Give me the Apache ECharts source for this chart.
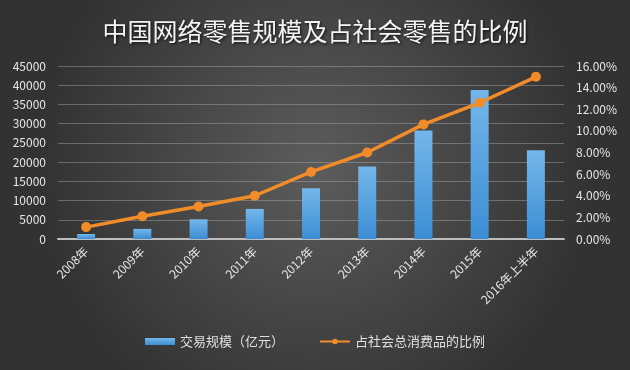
<!DOCTYPE html>
<html><head><meta charset="utf-8">
<script src="https://cdn.jsdelivr.net/npm/echarts@6/dist/echarts.min.js"></script>
<style>html,body{margin:0;padding:0;}#c{width:630px;height:370px;}</style>
</head><body><div id="c"></div>
<script>
var categories = ['2008年','2009年','2010年','2011年','2012年','2013年','2014年','2015年','2016年上半年'];
var tradeScale = [1300, 2630, 5131, 7825, 13205, 18851, 28211, 38773, 23100];
var ratio = [1.1, 2.1, 3.0, 4.0, 6.2, 8.0, 10.6, 12.6, 15.0];
var leftTicks = {min: 0, max: 45000, interval: 5000};
var rightTicks = {min: 0, max: 16, interval: 2};

var chart = echarts.init(document.getElementById('c'));
var font = '"Noto Sans CJK SC", "Noto Sans", sans-serif';
chart.setOption({
  animation: false,
  backgroundColor: {
    type: 'radial', x: 0.5, y: 0.45, r: 0.75,
    colorStops: [{offset: 0, color: '#5c5c5c'}, {offset: 1, color: '#323232'}]
  },
  title: {
    text: '中国网络零售规模及占社会零售的比例',
    left: 'center', top: 14,
    textStyle: {color: '#f4f4f4', fontSize: 25, fontWeight: 'normal', fontFamily: font,
      textShadowColor: 'rgba(0,0,0,0.8)', textShadowBlur: 3, textShadowOffsetX: 1, textShadowOffsetY: 1}
  },
  legend: {
    bottom: 17, left: 'center', itemGap: 35, itemWidth: 30, itemHeight: 7,
    textStyle: {color: '#e0e0e0', fontSize: 13, fontFamily: font},
    data: [
      {name: '交易规模（亿元）', icon: 'rect'},
      {name: '占社会总消费品的比例'}
    ]
  },
  grid: {left: 58, right: 66, top: 66, bottom: 131},
  xAxis: {
    type: 'category', data: categories,
    axisLine: {lineStyle: {color: '#bdbdbd', width: 2}},
    axisTick: {show: false},
    axisLabel: {color: '#e6e6e6', fontSize: 12, rotate: 45, fontFamily: font, margin: 10}
  },
  yAxis: [
    {type: 'value', min: leftTicks.min, max: leftTicks.max, interval: leftTicks.interval,
     axisLabel: {color: '#e6e6e6', fontSize: 12, fontFamily: font, margin: 12,
       formatter: function(v){ return String(v); }},
     splitLine: {lineStyle: {color: 'rgba(170,170,170,0.45)', width: 1}},
     axisLine: {show: false}, axisTick: {show: false}},
    {type: 'value', min: rightTicks.min, max: rightTicks.max, interval: rightTicks.interval,
     axisLabel: {color: '#e6e6e6', fontSize: 12, fontFamily: font, margin: 12,
       formatter: function(v){ return v.toFixed(2) + '%'; }},
     splitLine: {show: false}, axisLine: {show: false}, axisTick: {show: false}}
  ],
  series: [
    {name: '交易规模（亿元）', type: 'bar', data: tradeScale, barWidth: 18, yAxisIndex: 0,
     itemStyle: {color: {type: 'linear', x: 0, y: 0, x2: 0, y2: 1,
       colorStops: [{offset: 0, color: '#74b6ea'}, {offset: 1, color: '#3b8ed4'}]}}},
    {name: '占社会总消费品的比例', type: 'line', data: ratio, yAxisIndex: 1,
     symbol: 'circle', symbolSize: 10,
     lineStyle: {color: '#f28c28', width: 3.5},
     itemStyle: {color: '#f28c28'}}
  ]
});
</script></body></html>
